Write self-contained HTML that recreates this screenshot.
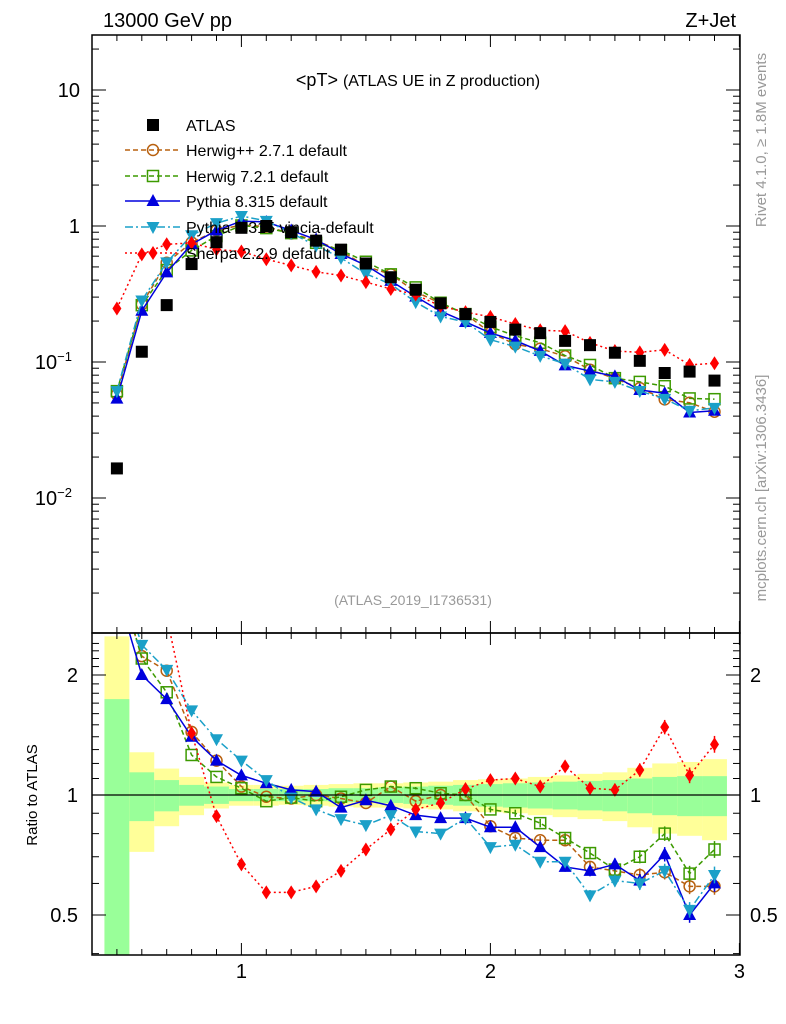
<!DOCTYPE html>
<html><head><meta charset="utf-8"><style>
html,body{margin:0;padding:0;background:#fff;width:786px;height:1024px;overflow:hidden}
svg{display:block}
svg text{font-family:"Liberation Sans",sans-serif}
</style></head><body>
<svg id="chart" width="786" height="1024" xmlns="http://www.w3.org/2000/svg">
<defs>
<clipPath id="cm"><rect x="92" y="35" width="648" height="598"/></clipPath>
<clipPath id="cr"><rect x="92" y="633" width="648" height="322"/></clipPath>
</defs>
<g id="bands" clip-path="url(#cr)"></g>
<g id="series-main" clip-path="url(#cm)"></g>
<g id="series-ratio" clip-path="url(#cr)"></g>
<g id="axes"></g>
<text x="103" y="27" font-size="20">13000 GeV pp</text>
<text x="736" y="27" font-size="20" text-anchor="end">Z+Jet</text>
<text x="418" y="86" font-size="18" text-anchor="middle">&lt;pT&gt; <tspan font-size="16">(ATLAS UE in Z production)</tspan></text>
<text x="413" y="605" font-size="14" fill="#999" text-anchor="middle">(ATLAS_2019_I1736531)</text>
<text transform="translate(766,140) rotate(-90)" font-size="15" fill="#999" text-anchor="middle">Rivet 4.1.0, ≥ 1.8M events</text>
<text transform="translate(766,488) rotate(-90)" font-size="15" fill="#999" text-anchor="middle">mcplots.cern.ch [arXiv:1306.3436]</text>
<text transform="translate(37,795) rotate(-90)" font-size="15" text-anchor="middle">Ratio to ATLAS</text>
<g id="legend"></g>
</svg>
<script>
const xs=[0.5,0.6,0.7,0.8,0.9,1.0,1.1,1.2,1.3,1.4,1.5,1.6,1.7,1.8,1.9,2.0,2.1,2.2,2.3,2.4,2.5,2.6,2.7,2.8,2.9];
const atlas=[0.0165,0.119,0.262,0.525,0.76,0.97,1.0,0.9,0.78,0.67,0.53,0.42,0.34,0.27,0.225,0.197,0.173,0.163,0.143,0.133,0.117,0.102,0.083,0.085,0.073];
const errStat=[0.74,0.14,0.09,0.06,0.05,0.035,0.035,0.035,0.035,0.04,0.04,0.045,0.05,0.055,0.06,0.065,0.07,0.075,0.08,0.085,0.09,0.1,0.11,0.115,0.115];
const errTot=[1.5,0.28,0.165,0.11,0.075,0.06,0.06,0.055,0.06,0.065,0.07,0.07,0.075,0.08,0.09,0.095,0.1,0.11,0.12,0.13,0.14,0.17,0.2,0.21,0.23];
const rHerwigpp=[3.5,2.23,2.05,1.44,1.22,1.05,0.99,0.98,1.0,0.98,0.955,1.05,0.965,1.0,1.0,0.835,0.78,0.77,0.77,0.66,0.645,0.63,0.64,0.59,0.59];
const rHerwig7=[3.7,2.2,1.81,1.26,1.11,1.04,0.965,0.985,0.965,0.99,1.03,1.05,1.04,1.01,1.0,0.92,0.9,0.85,0.78,0.715,0.65,0.7,0.8,0.635,0.73];
const rPythia=[3.26,2.0,1.74,1.4,1.22,1.12,1.07,1.03,1.02,0.93,0.97,0.94,0.89,0.875,0.875,0.83,0.83,0.74,0.66,0.645,0.67,0.61,0.71,0.5,0.6];
const rVincia=[3.7,2.38,2.06,1.63,1.38,1.22,1.09,0.985,0.92,0.87,0.84,0.89,0.81,0.8,0.875,0.74,0.75,0.68,0.68,0.56,0.61,0.6,0.645,0.515,0.63];
const rSherpa=[15,5.2,2.8,1.43,0.885,0.67,0.57,0.57,0.59,0.645,0.73,0.82,0.92,0.955,1.035,1.09,1.1,1.05,1.18,1.04,1.03,1.155,1.48,1.12,1.34];
const NS='http://www.w3.org/2000/svg';
const X=v=>92+(v-0.4)*249;
const YM=v=>226-136*Math.log10(v);
const YR=r=>795-120*Math.log2(r);
const clampR=y=>Math.min(955,Math.max(633,y));
function mk(tag,attrs,parent){const e=document.createElementNS(NS,tag);for(const k in attrs)e.setAttribute(k,attrs[k]);parent.appendChild(e);return e;}
const gB=document.getElementById('bands'),gM=document.getElementById('series-main'),gR=document.getElementById('series-ratio'),gA=document.getElementById('axes'),gL=document.getElementById('legend');
function band(lo,hi,x,fill,name){
 const y1=clampR(YR(hi)),y2=clampR(YR(Math.max(0.05,lo)));
 const r=mk('rect',{x:X(x-0.05),width:249*0.1,y:y1,height:y2-y1,fill:fill},gB);
 
 
}
xs.forEach((x,i)=>{
 band(1-errTot[i],1+errTot[i],x,'#ffff99','total-uncertainty-band');
 band(1-errStat[i],1+errStat[i],x,'#99ff99','stat-uncertainty-band');
});
function marker(type,cx,cy,color,parent){
 let e;
 if(type==='sq') e=mk('rect',{x:cx-6,y:cy-6,width:12,height:12,fill:'#000'},parent);
 else if(type==='circ') e=mk('circle',{cx:cx,cy:cy,r:5.5,fill:'none',stroke:color,'stroke-width':1.5},parent);
 else if(type==='osq') e=mk('rect',{x:cx-5.5,y:cy-5.5,width:11,height:11,fill:'none',stroke:color,'stroke-width':1.5},parent);
 else if(type==='up') e=mk('polygon',{points:`${cx},${cy-7} ${cx-6.5},${cy+5} ${cx+6.5},${cy+5}`,fill:color},parent);
 else if(type==='down') e=mk('polygon',{points:`${cx},${cy+7} ${cx-6.5},${cy-5} ${cx+6.5},${cy-5}`,fill:color},parent);
 else if(type==='dia') e=mk('polygon',{points:`${cx},${cy-7} ${cx-4.5},${cy} ${cx},${cy+7} ${cx+4.5},${cy}`,fill:color},parent);
 return e;
}
const series=[
 {name:'Herwig++ 2.7.1 default',r:rHerwigpp,c:'#b8600f',m:'circ',d:'5,3',key:'herwigpp'},
 {name:'Herwig 7.2.1 default',r:rHerwig7,c:'#3c9a00',m:'osq',d:'5,3',key:'herwig7'},
 {name:'Pythia 8.315 default',r:rPythia,c:'#0000dd',m:'up',d:'',key:'pythia'},
 {name:'Pythia 8.315 vincia-default',r:rVincia,c:'#1ba0c8',m:'down',d:'8,3,2,3',key:'vincia'},
 {name:'Sherpa 2.2.9 default',r:rSherpa,c:'#ff0000',m:'dia',d:'2,3',key:'sherpa'}
];
series.forEach(s=>{
 const ptsM=xs.map((x,i)=>X(x)+','+YM(atlas[i]*s.r[i])).join(' ');
 const lm=mk('polyline',{points:ptsM,fill:'none',stroke:s.c,'stroke-width':1.5,'stroke-dasharray':s.d},gM);
 
 
 const ptsR=xs.map((x,i)=>X(x)+','+YR(s.r[i])).join(' ');
 const lr=mk('polyline',{points:ptsR,fill:'none',stroke:s.c,'stroke-width':1.5,'stroke-dasharray':s.d},gR);
 
 
 xs.forEach((x,i)=>{
  const a=marker(s.m,X(x),YM(atlas[i]*s.r[i]),s.c,gM);
  
  
  const ey=Math.max(1,(x-1.5)*6);
  if(x>1.6) mk('line',{x1:X(x),x2:X(x),y1:YR(s.r[i])-ey,y2:YR(s.r[i])+ey,stroke:s.c,'stroke-width':1.5},gR);
  const b=marker(s.m,X(x),YR(s.r[i]),s.c,gR);
  
  
 });
});
xs.forEach((x,i)=>{
 const a=marker('sq',X(x),YM(atlas[i]),'#000',gM);
 
 
});
mk('line',{x1:92,x2:740,y1:795,y2:795,stroke:'#000','stroke-width':1.2},gA);
mk('rect',{x:92,y:35,width:648,height:598,fill:'none',stroke:'#000','stroke-width':1.5},gA);
mk('rect',{x:92,y:633,width:648,height:322,fill:'none',stroke:'#000','stroke-width':1.5},gA);
for(let k=4;k<=30;k++){
 const v=k/10,x=X(v),maj=(k%10===0),L=maj?12:6;
 [[35,1],[633,-1],[633,1],[955,-1]].forEach(([y,d])=>mk('line',{x1:x,x2:x,y1:y,y2:y+d*L,stroke:'#000','stroke-width':1},gA));
}
[1,2,3].forEach(v=>{const t=mk('text',{x:X(v),y:978,'font-size':20,'text-anchor':'middle'},gA);t.textContent=v;
 
 });
for(let e=-3;e<=1;e++)for(let m=1;m<=9;m++){
 const v=m*Math.pow(10,e),y=YM(v);if(y<35||y>633)continue;
 const L=m===1?14:7;
 mk('line',{x1:92,x2:92+L,y1:y,y2:y,stroke:'#000'},gA);
 mk('line',{x1:740,x2:740-L,y1:y,y2:y,stroke:'#000'},gA);
}
const ml=[[10,'10'],[1,'1'],[0.1,'10<tspan dy="-8" font-size="13">−1</tspan>'],[0.01,'10<tspan dy="-8" font-size="13">−2</tspan>']];
ml.forEach(([v,s])=>{const t=mk('text',{x:v>=1?80:72,y:YM(v)+7,'font-size':20,'text-anchor':'end'},gA);t.innerHTML=s;
 
 });
for(let r=0.4;r<=2.5;r+=0.1){
 const rr=Math.round(r*10)/10,y=YR(rr);if(y<633||y>955)continue;
 const maj=(rr===0.5||rr===1||rr===2),L=maj?14:7;
 mk('line',{x1:92,x2:92+L,y1:y,y2:y,stroke:'#000'},gA);
 mk('line',{x1:740,x2:740-L,y1:y,y2:y,stroke:'#000'},gA);
}
[[2,'2'],[1,'1'],[0.5,'0.5']].forEach(([v,s])=>{
 const t=mk('text',{x:78,y:YR(v)+7,'font-size':20,'text-anchor':'end'},gA);t.textContent=s;
 
 
 const t2=mk('text',{x:750,y:YR(v)+7,'font-size':20},gA);t2.textContent=s;
 
 
});
const ly=[125,150,176,201,227,253];
const la=marker('sq',153,ly[0],'#000',gL);


const lt=mk('text',{x:186,y:ly[0]+6,'font-size':16},gL);lt.textContent='ATLAS';


series.forEach((s,i)=>{
 const y=ly[i+1];
 mk('line',{x1:125,x2:180,y1:y,y2:y,stroke:s.c,'stroke-width':1.5,'stroke-dasharray':s.d},gL);
 marker(s.m,153,y,s.c,gL);
 const t=mk('text',{x:186,y:y+6,'font-size':16},gL);t.textContent=s.name;
 
 
});
</script>
</body></html>
